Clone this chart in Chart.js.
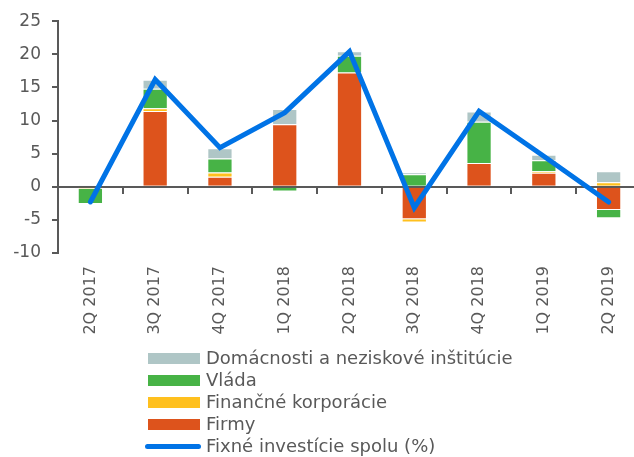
<!DOCTYPE html>
<html>
<head>
<meta charset="utf-8">
<script src="https://cdn.jsdelivr.net/npm/chart.js@4"></script>
<style>
  html, body { margin: 0; padding: 0; background: #fff; overflow: hidden; }
  #wrap { position: relative; width: 642px; height: 457px; }
  #legend { position: absolute; left: 148px; top: 347px; font: 18px "DejaVu Sans", Verdana, sans-serif; color: #595959; }
  #legend .row { height: 22px; line-height: 22px; display: flex; align-items: center; white-space: nowrap; }
  #legend .sw { width: 52px; height: 11px; margin-right: 6px; }
  #legend .ln { width: 56px; height: 5px; border-radius: 3px; margin: 0 5px 0 -3px; }
</style>
</head>
<body>
<div id="wrap">
  <canvas id="chart" width="642" height="457"></canvas>
  <div id="legend"></div>
</div>
<script>
(function(){
  'use strict';

  const quarters = ['2Q 2017','3Q 2017','4Q 2017','1Q 2018','2Q 2018','3Q 2018','4Q 2018','1Q 2019','2Q 2019'];
  const firms      = [0,    11.45, 1.5,  9.45, 17.25, -4.9, 3.6,  2.1,  -3.5];
  const financial  = [-0.3, 0.4,   0.65, 0,    0,     -0.5, 0,    0.25, 0.7];
  const government = [-2.3, 2.95,  2.1,  -0.7, 2.55,  1.9,  6.2,  1.65, -1.25];
  const households = [0.2,  1.35,  1.55, 2.3,  0.65,  0.3,  1.55, 0.85, 1.65];
  const totalInv   = [-2.3, 16.2,  5.9,  11.2, 20.4,  -3.15, 11.4, 4.6, -2.3];

  const AXIS = '#595959';
  const FONT = { family: '"DejaVu Sans", Verdana, sans-serif', size: 16 };

  const bar = (label, data, color) => ({
    type: 'bar', label, data, backgroundColor: color,
    borderColor: 'rgba(255,255,255,0.55)', borderWidth: 1,
    barPercentage: 0.39, categoryPercentage: 1, order: 1, stack: 's'
  });

  const datasets = [
    bar('Firmy', firms, '#DD531C'),
    bar('Finančné korporácie', financial, '#FFC01E'),
    bar('Vláda', government, '#47B346'),
    bar('Domácnosti a neziskové inštitúcie', households, '#AFC6C6'),
    { type: 'line', label: 'Fixné investície spolu (%)', data: totalInv,
      borderColor: '#0073E6', borderWidth: 5, pointRadius: 0, fill: false,
      tension: 0, order: 0, borderCapStyle: 'round' }
  ];

  new Chart(document.getElementById('chart'), {
    type: 'bar',
    data: { labels: quarters, datasets },
    options: {
      responsive: false,
      animation: false,
      layout: { padding: { top: 20, right: 1, bottom: 104, left: 0 } },
      plugins: { legend: { display: false }, tooltip: { enabled: false } },
      scales: {
        x: {
          stacked: true,
          grid: { display: false },
          border: { display: false },
          ticks: { color: AXIS, font: FONT, minRotation: 90, maxRotation: 90, padding: 5, autoSkip: false },
          afterFit: s => { s.height = 100; }
        },
        x0: {
          type: 'category', axis: 'x', position: { y: 0 }, offset: true,
          grid: { offset: true, drawOnChartArea: false, tickLength: 6, color: AXIS, lineWidth: 2 },
          border: { color: AXIS, width: 2 },
          ticks: { display: false }
        },
        y: {
          stacked: true, min: -10, max: 25,
          grid: { drawOnChartArea: false, tickLength: 6, color: AXIS, lineWidth: 2 },
          border: { color: AXIS, width: 2 },
          ticks: { stepSize: 5, color: AXIS, font: { ...FONT, size: 17 }, padding: 11 },
          afterFit: s => { s.width = 58; }
        }
      }
    }
  });

  // legend, listed top-down like the source
  const legendOrder = [3, 2, 1, 0, 4];
  const legend = document.getElementById('legend');
  legendOrder.forEach(i => {
    const ds = datasets[i];
    const row = document.createElement('div');
    row.className = 'row';
    const sw = document.createElement('span');
    sw.className = ds.type === 'line' ? 'ln' : 'sw';
    sw.style.background = ds.type === 'line' ? ds.borderColor : ds.backgroundColor;
    const txt = document.createElement('span');
    txt.textContent = ds.label;
    row.appendChild(sw); row.appendChild(txt);
    legend.appendChild(row);
  });
})();
</script>
</body>
</html>
